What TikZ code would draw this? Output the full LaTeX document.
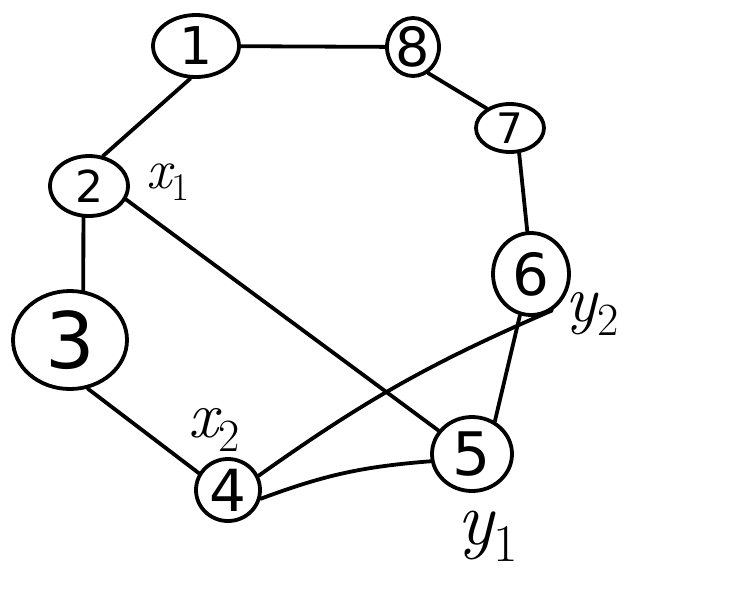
\documentclass[tikz,border=0pt]{standalone}
\usepackage{fontspec}
\setmainfont{DejaVu Sans}
\newfontfamily\lmfont{Latin Modern Roman}
\newcommand{\mylab}[3]{{\lmfont\fontsize{#3}{#3}\selectfont\itshape #1}\raisebox{-0.22\dimexpr#3pt\relax}{\lmfont\fontsize{0.7\dimexpr#3pt\relax}{#3}\selectfont #2}}
\usetikzlibrary{shapes.geometric}
\begin{document}
\begin{tikzpicture}[x=1pt,y=-1pt,
  vert/.style={draw,ellipse,line width=3.8pt,inner sep=0pt},
  edge/.style={line width=3.8pt,line cap=round},
  lab/.style={inner sep=0pt}]
\useasboundingbox (0,0) rectangle (747,598);
\node[vert,minimum width=86pt,minimum height=62pt,font=\fontsize{52}{54}\selectfont] (n1) at (196,46) {1};
\node[vert,minimum width=52pt,minimum height=58pt,font=\fontsize{54}{56}\selectfont] (n8) at (413,47) {8};
\node[vert,minimum width=68pt,minimum height=48pt,font=\fontsize{42}{44}\selectfont] (n7) at (510,128) {7};
\node[vert,minimum width=76pt,minimum height=82pt,font=\fontsize{58}{60}\selectfont] (n6) at (531,274) {6};
\node[vert,minimum width=80pt,minimum height=74pt,font=\fontsize{60}{62}\selectfont] (n5) at (472,454) {5};
\node[vert,minimum width=64pt,minimum height=62pt,font=\fontsize{58}{60}\selectfont] (n4) at (228,490) {4};
\node[vert,minimum width=114pt,minimum height=98pt,font=\fontsize{78}{80}\selectfont] (n3) at (70,340) {3};
\node[vert,minimum width=78pt,minimum height=60pt,font=\fontsize{44}{46}\selectfont] (n2) at (89,186) {2};
\node[lab] (lx1) at (168,182) {\mylab{x}{1}{56}};
\node[lab] (lx2) at (214,430) {\mylab{x}{2}{66}};
\node[lab] (ly2) at (592,314) {\mylab{y}{2}{66}};
\node[lab] (ly1) at (488,536) {\mylab{y}{1}{76}};
\draw[edge] (n1) -- (n8);
\draw[edge] (n8.-60) -- (n7.140);
\draw[edge] (n7.-70) -- (n6.95);
\draw[edge] (n6.-105) -- (n5.55);
\draw[edge] (n4.-15) to[bend left=8] (n5.190);
\draw[edge] (n4.25) to[bend left=6] (n6.-60);
\draw[edge] (n2.-20) -- (n5.145);
\draw[edge] (n3.-70) -- (n4.150);
\draw[edge] (n2.-100) -- (n3.75);
\draw[edge] (n1.-100) -- (n2.65);
\end{tikzpicture}
\end{document}
